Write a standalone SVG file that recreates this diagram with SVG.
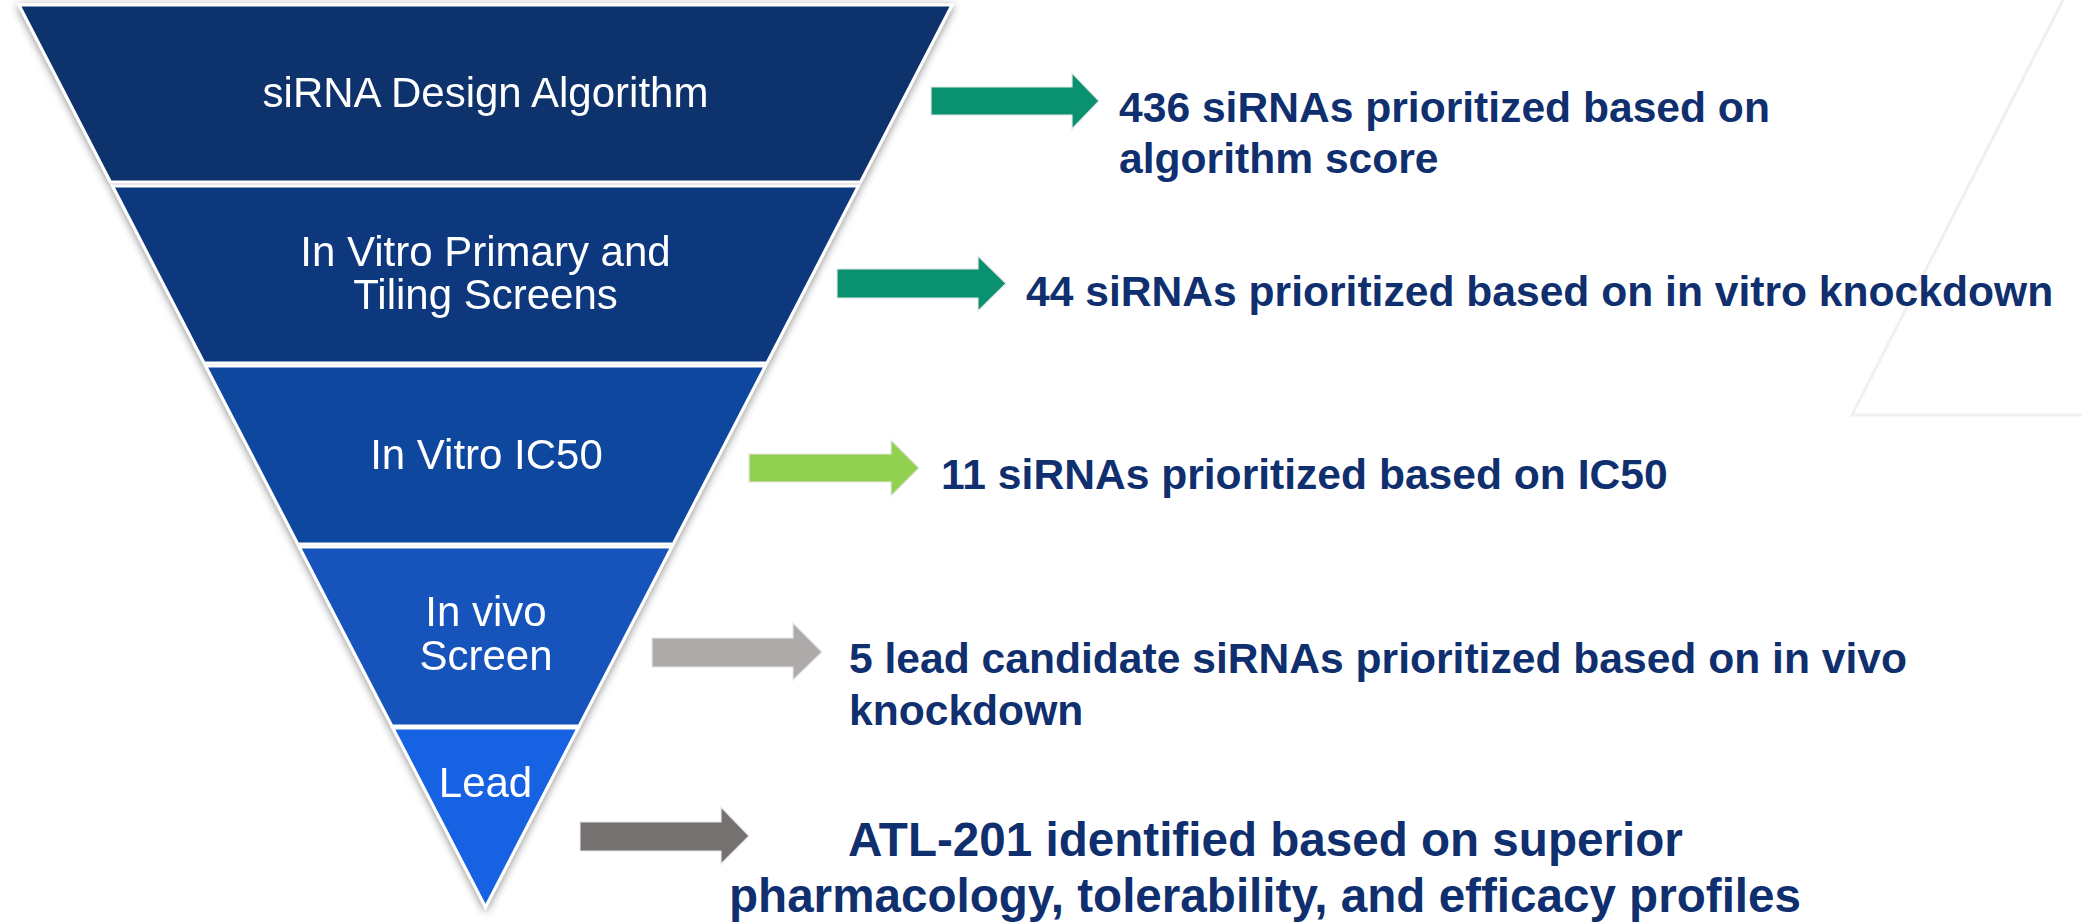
<svg xmlns="http://www.w3.org/2000/svg" width="2082" height="923" viewBox="0 0 2082 923">
<style>
.band{stroke:#ffffff;stroke-width:3;stroke-linejoin:miter}
.ft{font-family:"Liberation Sans",Arial,sans-serif;font-size:42px;fill:#ffffff;text-anchor:middle}
.rt{font-family:"Liberation Sans",Arial,sans-serif;font-weight:bold;font-size:42.6px;fill:#0f2f6e}
.big{font-size:47.6px}
.arr{stroke:#e6e6e6;stroke-width:1.2}
</style>
<defs>
<filter id="sh" x="-10%" y="-10%" width="120%" height="120%">
<feDropShadow dx="0" dy="2" stdDeviation="4" flood-color="#000000" flood-opacity="0.45"/>
</filter>
</defs>
<rect width="2082" height="923" fill="#ffffff"/>
<polyline points="2063,0 1852,415 2082,415" fill="none" stroke="#f0f0f0" stroke-width="3"/>
<g id="funnel" filter="url(#sh)">
<g id="band1">
<polygon class="band" fill="#0c306c" points="19,5 952,5 860.5,182 110.5,182"/>
<text class="ft" x="485.5" y="107">siRNA Design Algorithm</text>
</g>
<g id="band2">
<polygon class="band" fill="#0e387e" points="112.6,186 858.4,186 766.9,363 204.1,363"/>
<text class="ft" x="485.5" y="266">In Vitro Primary and</text>
<text class="ft" x="485.5" y="309">Tiling Screens</text>
</g>
<g id="band3">
<polygon class="band" fill="#11469e" points="205.7,366 765.3,366 673.2,544 297.8,544"/>
<text class="ft" x="486.5" y="469">In Vitro IC50</text>
</g>
<g id="band4">
<polygon class="band" fill="#1553ba" points="299.3,547 671.7,547 579.1,726 391.9,726"/>
<text class="ft" x="486" y="626">In vivo</text>
<text class="ft" x="486" y="670">Screen</text>
</g>
<g id="band5">
<polygon class="band" fill="#1862e2" points="392.9,728 578.1,728 485.5,907"/>
<text class="ft" x="485.5" y="797">Lead</text>
</g>
</g>
<g id="connectors">
<polygon class="arr" fill="#0a9270" points="931,87 1072,87 1072,73 1099,101 1072,129 1072,115 931,115"/>
<polygon class="arr" fill="#0a9270" points="837,269 978,269 978,256 1006,283.5 978,311 978,298 837,298"/>
<polygon class="arr" fill="#92d050" points="749,454 891,454 891,440 919,468 891,496 891,482 749,482"/>
<polygon class="arr" fill="#aeaaaa" points="652,638 793,638 793,623 822,652 793,680 793,667 652,667"/>
<polygon class="arr" fill="#767171" points="580,822 721,822 721,807 749,836 721,864 721,851 580,851"/>
</g>
<g id="result1">
<text class="rt" x="1119" y="122">436 siRNAs prioritized based on</text>
<text class="rt" x="1119" y="173">algorithm score</text>
</g>
<g id="result2">
<text class="rt" x="1026" y="306">44 siRNAs prioritized based on in vitro knockdown</text>
</g>
<g id="result3">
<text class="rt" x="941" y="489">11 siRNAs prioritized based on IC50</text>
</g>
<g id="result4">
<text class="rt" x="849" y="673">5 lead candidate siRNAs prioritized based on in vivo</text>
<text class="rt" x="849" y="725">knockdown</text>
</g>
<g id="result5">
<text class="rt big" x="848" y="856">ATL-201 identified based on superior</text>
<text class="rt big" x="729" y="912">pharmacology, tolerability, and efficacy profiles</text>
</g>
</svg>
